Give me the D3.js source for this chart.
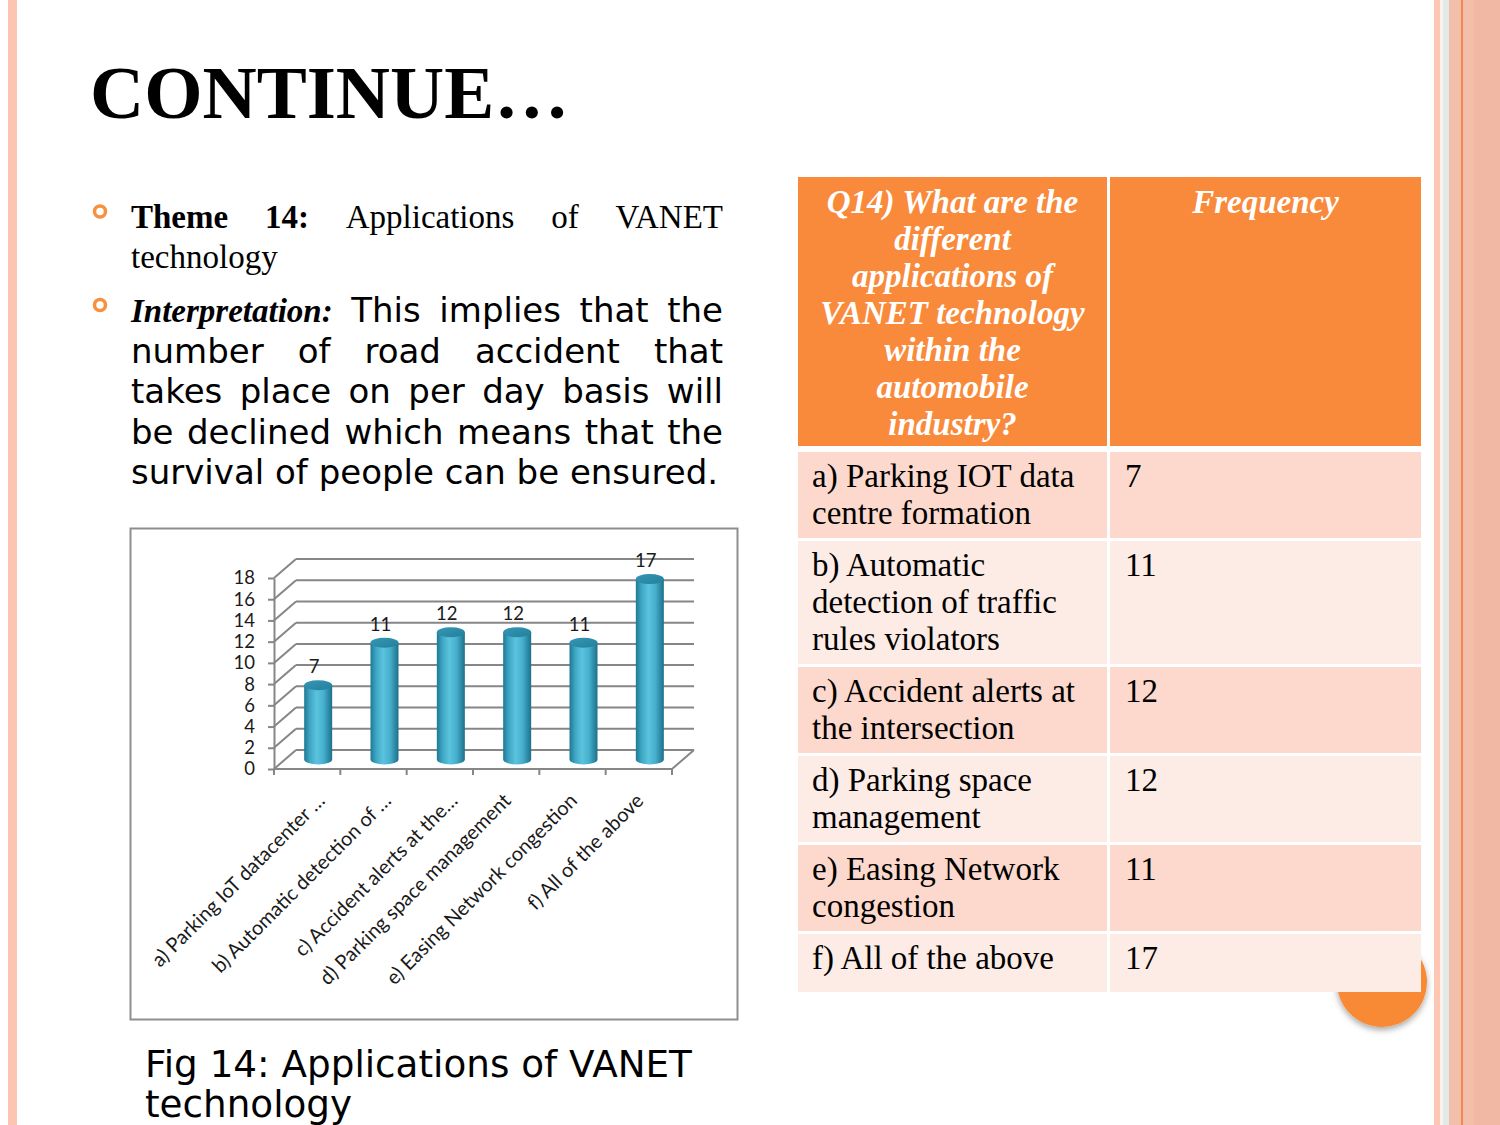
<!DOCTYPE html>
<html><head><meta charset="utf-8">
<script src="https://cdn.jsdelivr.net/npm/d3@7"></script>
<style>html,body{margin:0;padding:0;background:#fff;} svg{display:block;}</style>
</head><body>
<svg id="slide" width="1500" height="1125"></svg>
<script>
// ---------------- data ----------------
const categories = [
  "a) Parking IoT datacenter …",
  "b) Automatic detection of …",
  "c) Accident alerts at the…",
  "d) Parking space management",
  "e) Easing Network congestion",
  "f) All of the above"
];
const values = [7, 11, 12, 12, 11, 17];
const yTicks = [0, 2, 4, 6, 8, 10, 12, 14, 16, 18];
const tableHeader = [
  ["Q14) What are the", "different", "applications of", "VANET technology", "within the", "automobile", "industry?"],
  ["Frequency"]
];
const tableRowLabels = [
  ["a) Parking IOT data", "centre formation"],
  ["b) Automatic", "detection of traffic", "rules violators"],
  ["c) Accident alerts at", "the intersection"],
  ["d) Parking space", "management"],
  ["e) Easing Network", "congestion"],
  ["f) All of the above"]
];
const titleText = "CONTINUE…";
const themeLines = [
  [["Theme", "b"], ["14:", "b"], ["Applications", "r"], ["of", "r"], ["VANET", "r"]],
  [["technology", "r"]]
];
const interpLines = [
  [["Interpretation:", "bi"], ["This", "s"], ["implies", "s"], ["that", "s"], ["the", "s"]],
  [["number", "s"], ["of", "s"], ["road", "s"], ["accident", "s"], ["that", "s"]],
  [["takes", "s"], ["place", "s"], ["on", "s"], ["per", "s"], ["day", "s"], ["basis", "s"], ["will", "s"]],
  [["be", "s"], ["declined", "s"], ["which", "s"], ["means", "s"], ["that", "s"], ["the", "s"]],
  [["survival", "s"], ["of", "s"], ["people", "s"], ["can", "s"], ["be", "s"], ["ensured.", "s"]]
];
const captionLines = ["Fig 14: Applications of VANET", "technology"];

// ---------------- setup ----------------
const svg = d3.select("#slide");
const defs = svg.append("defs");
const SERIF = "'Liberation Serif','Times New Roman',serif";
const SANS = "'DejaVu Sans',Verdana,sans-serif";
const CHARTF = "Lato,'Open Sans',sans-serif";

const styles = {
  b:  {family: SERIF, weight: "bold", style: "normal", size: 33},
  r:  {family: SERIF, weight: "normal", style: "normal", size: 33},
  bi: {family: SERIF, weight: "bold", style: "italic", size: 33},
  s:  {family: SANS, weight: "normal", style: "normal", size: 34}
};

// slide decorations
svg.append("rect").attr("x", 0).attr("y", 0).attr("width", 1500).attr("height", 1125).attr("fill", "#fff");
svg.append("rect").attr("x", 8).attr("y", 0).attr("width", 9).attr("height", 1125).attr("fill", "#fcc5af");
const deco = [
  [1434, 6, "#fdc7b4"], [1440, 3, "#fcf1ec"], [1443, 6, "#e0ebe8"],
  [1449, 51, "#f4bfaa"], [1474, 26, "#f1b9a4"], [1461, 2, "#f08a50"]
];
deco.forEach(d => svg.append("rect").attr("x", d[0]).attr("y", 0).attr("width", d[1]).attr("height", 1125).attr("fill", d[2]));

// title
svg.append("text").attr("x", 90).attr("y", 118)
  .style("font-family", SERIF).style("font-weight", "bold").style("font-size", "75px")
  .attr("fill", "#000").text(titleText);

// measuring helper
const meas = svg.append("text").attr("x", -1000).attr("y", -1000);
function applyStyle(sel, st) {
  return sel.style("font-family", st.family).style("font-weight", st.weight)
    .style("font-style", st.style).style("font-size", st.size + "px");
}
function measure(str, st) {
  applyStyle(meas, st).text(str);
  return meas.node().getComputedTextLength();
}
function drawLine(words, x0, x1, yb, justify) {
  const w = words.map(d => measure(d[0], styles[d[1]]));
  const total = d3.sum(w);
  let gap;
  if (justify && words.length > 1) gap = (x1 - x0 - total) / (words.length - 1);
  else gap = measure("\u00a0", styles[words[words.length - 1][1]]);
  let xx = x0;
  words.forEach((d, i) => {
    applyStyle(svg.append("text").attr("x", xx).attr("y", yb).attr("fill", "#000"), styles[d[1]]).text(d[0]);
    xx += w[i] + gap;
  });
}

// bullets
[211.5, 305].forEach(cy => svg.append("circle").attr("cx", 100).attr("cy", cy).attr("r", 5.5)
  .attr("fill", "none").attr("stroke", "#f7913f").attr("stroke-width", 3.5));

themeLines.forEach((ln, i) => drawLine(ln, 131, 723, 228 + i * 40, i < themeLines.length - 1));
interpLines.forEach((ln, i) => drawLine(ln, 131, 723, 322 + i * 40.5, i < interpLines.length - 1));

// caption
captionLines.forEach((t, i) => svg.append("text").attr("x", 145).attr("y", 1077 + i * 40)
  .style("font-family", SANS).style("font-size", "37.3px").attr("fill", "#000").text(t));

// ---------------- chart ----------------
svg.append("rect").attr("x", 130.5).attr("y", 528.5).attr("width", 607).attr("height", 491)
  .attr("fill", "#fff").attr("stroke", "#8e8e8e").attr("stroke-width", 2);

const x = d3.scaleBand().domain(categories).range([274, 672]);
const y = d3.scaleLinear().domain([0, 18]).range([769, 578]);
const DX = 22, DY = -19;
const GRID = "#868686";
const chart = svg.append("g");

// back wall gridlines
chart.selectAll("line.back").data(yTicks).join("line").attr("class", "back")
  .attr("x1", x.range()[0] + DX).attr("x2", x.range()[1] + DX)
  .attr("y1", d => y(d) + DY).attr("y2", d => y(d) + DY)
  .attr("stroke", GRID).attr("stroke-width", 2);
// side wall diagonals
chart.selectAll("line.side").data(yTicks).join("line").attr("class", "side")
  .attr("x1", x.range()[0]).attr("x2", x.range()[0] + DX)
  .attr("y1", d => y(d)).attr("y2", d => y(d) + DY)
  .attr("stroke", GRID).attr("stroke-width", 2);
// floor right diagonal
chart.append("line").attr("x1", x.range()[1]).attr("y1", y(0)).attr("x2", x.range()[1] + DX).attr("y2", y(0) + DY)
  .attr("stroke", GRID).attr("stroke-width", 2);

// y axis
const yAxis = d3.axisLeft(y).tickValues(yTicks).tickSize(6).tickSizeOuter(0).tickPadding(13);
const yg = chart.append("g").attr("transform", `translate(${x.range()[0]},0)`).call(yAxis);
yg.select(".domain").attr("stroke", GRID).attr("stroke-width", 2);
yg.selectAll(".tick line").attr("stroke", GRID).attr("stroke-width", 2);
yg.selectAll(".tick text").style("font-family", CHARTF).style("font-size", "18.5px").attr("fill", "#1a1a1a");

// x axis baseline and ticks at band edges
chart.append("line").attr("x1", x.range()[0]).attr("x2", x.range()[1]).attr("y1", y(0)).attr("y2", y(0))
  .attr("stroke", GRID).attr("stroke-width", 2);
const edges = categories.map(c => x(c)).concat([x.range()[1]]);
chart.selectAll("line.xt").data(edges).join("line").attr("class", "xt")
  .attr("x1", d => d).attr("x2", d => d).attr("y1", y(0)).attr("y2", y(0) + 6)
  .attr("stroke", GRID).attr("stroke-width", 2);

// cylinder gradients
const g1 = defs.append("linearGradient").attr("id", "cyl").attr("x1", 0).attr("x2", 1).attr("y1", 0).attr("y2", 0);
[[0, "#1f7893"], [0.2, "#3ea6c4"], [0.45, "#5cc3de"], [0.7, "#45afcd"], [1, "#1d7089"]]
  .forEach(s => g1.append("stop").attr("offset", s[0]).attr("stop-color", s[1]));
const g2 = defs.append("linearGradient").attr("id", "cyltop").attr("x1", 0).attr("x2", 1).attr("y1", 0).attr("y2", 1);
[[0, "#3596b4"], [1, "#23809c"]].forEach(s => g2.append("stop").attr("offset", s[0]).attr("stop-color", s[1]));

const BW = 28, RY = 5;
const bars = chart.selectAll("g.bar").data(categories.map((c, i) => ({c, v: values[i]}))).join("g").attr("class", "bar");
bars.append("path").attr("fill", "url(#cyl)").attr("d", d => {
  const cx = x(d.c) + x.bandwidth() / 2 + DX / 2;
  const l = cx - BW / 2, r = cx + BW / 2;
  const t = y(d.v) + DY / 2, bot = y(0) + DY / 2;
  return `M${l},${t} L${l},${bot} A${BW / 2},${RY} 0 0 0 ${r},${bot} L${r},${t} Z`;
});
bars.append("ellipse").attr("fill", "url(#cyltop)")
  .attr("cx", d => x(d.c) + x.bandwidth() / 2 + DX / 2)
  .attr("cy", d => y(d.v) + DY / 2).attr("rx", BW / 2).attr("ry", RY);
bars.append("text").attr("text-anchor", "middle")
  .attr("x", d => x(d.c) + x.bandwidth() / 2 + DX / 2 - 4)
  .attr("y", d => y(d.v) + DY / 2 - 12)
  .style("font-family", CHARTF).style("font-size", "18.5px").attr("fill", "#1a1a1a").text(d => d.v);

// category labels (truncated labels sit a little further right, as in the source)
chart.selectAll("text.cat").data(categories).join("text").attr("class", "cat")
  .attr("text-anchor", "end")
  .attr("transform", d => `translate(${x(d) + x.bandwidth() / 2 + (d.endsWith("…") ? 14 : 1)},${y(0) + 28}) rotate(-45)`)
  .attr("dy", "0.35em")
  .style("font-family", CHARTF).style("font-size", "20px").attr("fill", "#1a1a1a").text(d => d);

// ---------------- table ----------------
const shadow = defs.append("filter").attr("id", "sh").attr("x", "-30%").attr("y", "-30%").attr("width", "160%").attr("height", "160%");
shadow.append("feDropShadow").attr("dx", 0).attr("dy", 3).attr("stdDeviation", 3).attr("flood-color", "#000").attr("flood-opacity", 0.35);
svg.append("circle").attr("cx", 1382).attr("cy", 982).attr("r", 45).attr("fill", "#f98a35").attr("filter", "url(#sh)");

const COLX = [798, 1110], COLW = [309, 311];
const ORANGE = "#f98a3b";
const headTop = 177, headBot = 446;
COLX.forEach((cx, i) => svg.append("rect").attr("x", cx).attr("y", headTop).attr("width", COLW[i]).attr("height", headBot - headTop).attr("fill", ORANGE));
tableHeader.forEach((lines, i) => {
  lines.forEach((t, j) => svg.append("text").attr("x", COLX[i] + COLW[i] / 2).attr("y", 213 + j * 37)
    .attr("text-anchor", "middle").style("font-family", SERIF).style("font-weight", "bold")
    .style("font-style", "italic").style("font-size", "33px").attr("fill", "#fff").text(t));
});
let rowTop = 452;
tableRowLabels.forEach((lines, i) => {
  const h = Math.max(58, 37 * lines.length + 12);
  const fill = i % 2 === 0 ? "#fcd9cc" : "#fdebe5";
  COLX.forEach((cx, k) => svg.append("rect").attr("x", cx).attr("y", rowTop).attr("width", COLW[k]).attr("height", h).attr("fill", fill));
  lines.forEach((t, j) => svg.append("text").attr("x", 812).attr("y", rowTop + 35 + j * 37)
    .style("font-family", SERIF).style("font-size", "33px").attr("fill", "#000").text(t));
  svg.append("text").attr("x", 1125).attr("y", rowTop + 35)
    .style("font-family", SERIF).style("font-size", "33px").attr("fill", "#000").text(values[i]);
  rowTop += h + 3;
});
meas.remove();
</script>
</body></html>
